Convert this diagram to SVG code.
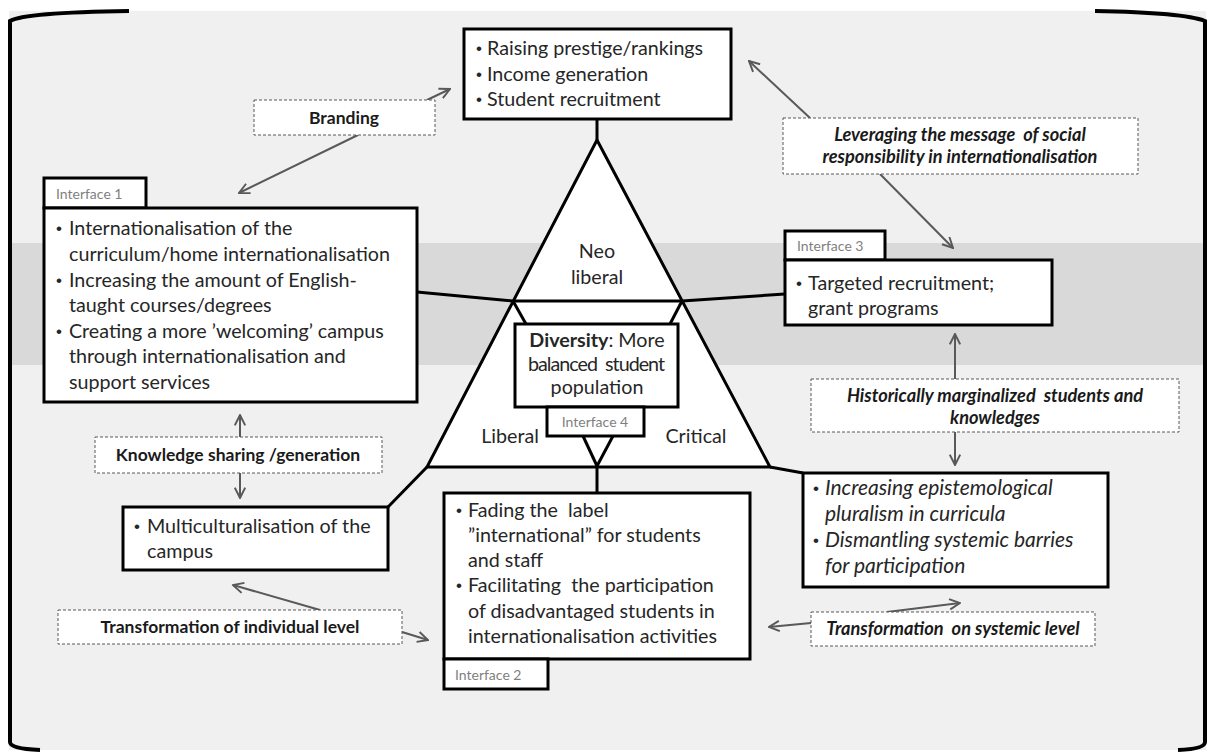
<svg xmlns="http://www.w3.org/2000/svg" width="1209" height="756" viewBox="0 0 1209 756">
<defs>
<style>
.t{font-family:Lato,"Liberation Sans",sans-serif;font-size:19.7px;fill:#262626}
.i{font-style:italic;font-size:21px}
.b{font-family:"Liberation Sans",sans-serif;font-size:17px;fill:#262626}
.lb{font-family:Lato,"Liberation Sans",sans-serif;font-size:17.5px;font-weight:bold;fill:#1a1a1a}
.li{font-style:italic;font-size:18.2px}
.tab{font-family:Lato,"Liberation Sans",sans-serif;font-size:14px;fill:#7f7f7f}
.box{fill:#fff;stroke:#000;stroke-width:3}
.dash{fill:#fff;stroke:#595959;stroke-width:1;stroke-dasharray:3 2}
.ln{stroke:#000;stroke-width:3;fill:none}
.ar{stroke:#595959;stroke-width:2;fill:none;marker-end:url(#ah)}
</style>
<marker id="ah" viewBox="0 0 10 10" refX="9" refY="5" markerWidth="6.5" markerHeight="6.5" orient="auto" markerUnits="strokeWidth">
<path d="M1,1 L9,5 L1,9" fill="none" stroke="#595959" stroke-width="1.5"/>
</marker>
</defs>
<rect x="0" y="0" width="1209" height="756" fill="#fff"/>
<rect x="9" y="11" width="1197" height="739" fill="#f0f0f0"/>
<rect x="10" y="243" width="1195" height="122" fill="#d9d9d9"/>
<g id="frame" fill="none" stroke="#000" stroke-width="4">
<path d="M129,11 C60,12 20,15 10,21 L10,742 Q10,749 40,750"/>
<path d="M1095,11 C1150,12 1190,15 1205,21 L1205,742 Q1205,749 1178,750"/>
</g>
<g id="connectors">
<line class="ln" x1="597" y1="119" x2="597" y2="140"/>
<line class="ln" x1="513" y1="301" x2="417" y2="292"/>
<line class="ln" x1="682" y1="301" x2="785" y2="294"/>
<line class="ln" x1="427" y1="467" x2="388" y2="507"/>
<line class="ln" x1="770" y1="467" x2="803" y2="473"/>
<line class="ln" x1="597" y1="466" x2="597" y2="493"/>
<line class="ar" x1="358" y1="135" x2="239" y2="193"/>
<line class="ar" x1="427" y1="100" x2="450" y2="89"/>
<line class="ar" x1="810" y1="118" x2="749" y2="61"/>
<line class="ar" x1="880" y1="174" x2="953" y2="248"/>
<line class="ar" x1="955" y1="379" x2="955" y2="334"/>
<line class="ar" x1="955" y1="432" x2="955" y2="465"/>
<line class="ar" x1="240" y1="437" x2="240" y2="415"/>
<line class="ar" x1="240" y1="473" x2="240" y2="498"/>
<line class="ar" x1="320" y1="610" x2="233" y2="585"/>
<line class="ar" x1="402" y1="632" x2="428" y2="640"/>
<line class="ar" x1="887" y1="612" x2="960" y2="603"/>
<line class="ar" x1="811" y1="623" x2="769" y2="627"/>
</g>
<g id="triangle">
<polygon class="box" points="597,140 427,467 770,467"/>
<line class="ln" x1="513" y1="301" x2="682" y2="301"/>
<line class="ln" x1="513" y1="301" x2="526" y2="324"/>
<line class="ln" x1="682" y1="301" x2="670" y2="324"/>
<line class="ln" x1="583" y1="436" x2="597" y2="466"/>
<line class="ln" x1="613" y1="436" x2="597" y2="466"/>
<text class="t" x="597" y="258" text-anchor="middle">Neo</text>
<text class="t" x="597" y="284" text-anchor="middle">liberal</text>
<text class="t" x="510" y="443" text-anchor="middle">Liberal</text>
<text class="t" x="696" y="443" text-anchor="middle">Critical</text>
</g>
<g id="diversity">
<rect class="box" x="515" y="324" width="163" height="83"/>
<text class="t" x="597" y="347" text-anchor="middle"><tspan font-weight="bold">Diversity</tspan>: More</text>
<text class="t" x="528" y="371" xml:space="preserve" textLength="137" lengthAdjust="spacing">balanced  student</text>
<text class="t" x="597" y="394" text-anchor="middle">population</text>
</g>
<g id="interface4">
<rect class="box" x="547" y="407" width="97" height="29"/>
<text class="tab" x="595" y="427" text-anchor="middle">Interface 4</text>
</g>
<g id="top">
<rect class="box" x="464" y="29" width="267" height="90"/>
<text class="b" x="476" y="54">•</text><text class="t" x="487" y="55">Raising prestige/rankings</text>
<text class="b" x="476" y="80">•</text><text class="t" x="487" y="81">Income generation</text>
<text class="b" x="476" y="105">•</text><text class="t" x="487" y="106">Student recruitment</text>
</g>
<g id="interface1">
<rect class="box" x="44" y="178" width="102" height="30"/>
<text class="tab" x="56" y="199">Interface 1</text>
<rect class="box" x="44" y="208" width="373" height="194"/>
<text class="b" x="56" y="234">•</text><text class="t" x="69" y="235">Internationalisation of the</text>
<text class="t" x="69" y="261">curriculum/home internationalisation</text>
<text class="b" x="56" y="286">•</text><text class="t" x="69" y="287">Increasing the amount of English-</text>
<text class="t" x="69" y="312">taught courses/degrees</text>
<text class="b" x="56" y="337">•</text><text class="t" x="69" y="338">Creating a more ’welcoming’ campus</text>
<text class="t" x="69" y="363">through internationalisation and</text>
<text class="t" x="69" y="389">support services</text>
</g>
<g id="interface3">
<rect class="box" x="785" y="231" width="100" height="29"/>
<text class="tab" x="797" y="251">Interface 3</text>
<rect class="box" x="785" y="260" width="267" height="65"/>
<text class="b" x="796" y="289">•</text><text class="t" x="808" y="290">Targeted recruitment;</text>
<text class="t" x="808" y="315">grant programs</text>
</g>
<g id="multicultural">
<rect class="box" x="123" y="507" width="265" height="63"/>
<text class="b" x="134" y="532">•</text><text class="t" x="147" y="533">Multiculturalisation of the</text>
<text class="t" x="147" y="558">campus</text>
</g>
<g id="interface2">
<rect class="box" x="444" y="493" width="306" height="166"/>
<text class="b" x="456" y="516">•</text><text class="t" x="468" y="517" xml:space="preserve">Fading the  label</text>
<text class="t" x="468" y="542">”international” for students</text>
<text class="t" x="468" y="567">and staff</text>
<text class="b" x="456" y="591">•</text><text class="t" x="468" y="592" xml:space="preserve">Facilitating  the participation</text>
<text class="t" x="468" y="618">of disadvantaged students in</text>
<text class="t" x="468" y="643">internationalisation activities</text>
<rect class="box" x="444" y="659" width="104" height="30"/>
<text class="tab" x="455" y="680">Interface 2</text>
</g>
<g id="critical">
<rect class="box" x="803" y="473" width="305" height="114"/>
<text class="b" x="813" y="494">•</text><text class="t i" x="825" y="495">Increasing epistemological</text>
<text class="t i" x="825" y="521">pluralism in curricula</text>
<text class="b" x="813" y="546">•</text><text class="t i" x="825" y="547">Dismantling systemic barries</text>
<text class="t i" x="825" y="573">for participation</text>
</g>
<g id="branding">
<rect class="dash" x="254" y="100" width="181" height="35"/>
<text class="lb" x="344" y="124" text-anchor="middle">Branding</text>
</g>
<g id="leveraging">
<rect class="dash" x="783" y="118" width="355" height="56"/>
<text class="lb li" x="960" y="141" text-anchor="middle" xml:space="preserve">Leveraging the message  of social</text>
<text class="lb li" x="960" y="163" text-anchor="middle">responsibility in internationalisation</text>
</g>
<g id="historically">
<rect class="dash" x="811" y="379" width="368" height="53"/>
<text class="lb li" x="995" y="402" text-anchor="middle" xml:space="preserve">Historically marginalized  students and</text>
<text class="lb li" x="995" y="424" text-anchor="middle">knowledges</text>
</g>
<g id="knowledge">
<rect class="dash" x="95" y="437" width="287" height="36"/>
<text class="lb" x="238" y="461" text-anchor="middle">Knowledge sharing /generation</text>
</g>
<g id="individual">
<rect class="dash" x="58" y="610" width="344" height="34"/>
<text class="lb" x="230" y="633" text-anchor="middle">Transformation of individual level</text>
</g>
<g id="systemic">
<rect class="dash" x="811" y="612" width="284" height="34"/>
<text class="lb li" x="953" y="635" text-anchor="middle" xml:space="preserve">Transformation  on systemic level</text>
</g>
</svg>
